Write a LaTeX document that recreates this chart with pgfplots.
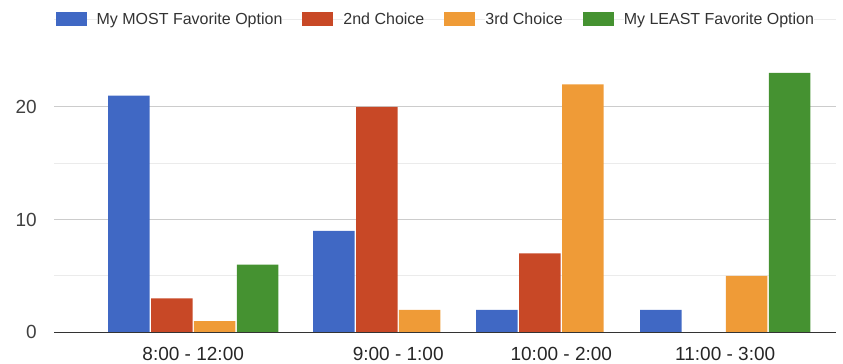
\documentclass[border=0pt]{standalone}
\usepackage{pgfplots}
\pgfplotsset{compat=1.18}
\usepackage{fontspec}
\setmainfont{Liberation Sans}
\definecolor{cblue}{HTML}{4068C4}
\definecolor{cred}{HTML}{C84826}
\definecolor{corange}{HTML}{EF9B37}
\definecolor{cgreen}{HTML}{459231}
\definecolor{txt}{HTML}{404040}
\begin{document}
\begin{tikzpicture}
\useasboundingbox (0,0) rectangle (843bp,364bp);
\begin{axis}[
  at={(54bp,31.7bp)}, anchor=south west,
  scale only axis, width=782bp, height=312.3bp,
  xmin=54, xmax=836, ymin=0, ymax=27.7,
  axis line style={draw=none},
  tick style={draw=none},
  xtick={193.2,398.2,561.3,725.2},
  xticklabels={8:00 - 12:00, 9:00 - 1:00, 10:00 - 2:00, 11:00 - 3:00},
  ytick={0,10,20},
  minor ytick={5,15},
  ymajorgrids, yminorgrids,
  major grid style={draw=black!20, line width=1bp},
  minor grid style={draw=black!8, line width=1bp},
  extra y ticks={27.7}, extra y tick labels={},
  extra y tick style={major grid style={draw=black!8, line width=1bp}},
  /pgf/number format/assume math mode=true,
  yticklabel style={font=\fontsize{19bp}{22bp}\selectfont, text=txt, anchor=east, inner sep=0pt, xshift=-17bp},
  xticklabel style={font=\fontsize{19bp}{22bp}\selectfont, text=black!85, anchor=north, inner sep=0pt, yshift=-15bp},
  legend columns=4,
  legend style={at={(0.487,1.002)}, anchor=center, draw=none, fill=none,
    inner sep=0pt, outer sep=0pt,
    font=\fontsize{16bp}{19bp}\selectfont, text=black!80,
    nodes={fill=white, inner sep=0pt, outer sep=0pt},
    /tikz/every odd column/.append style={column sep=10bp},
    /tikz/every even column/.append style={column sep=20bp}},
  legend image code/.code={\fill[#1] (0bp,-7bp) rectangle (31bp,7bp);},
]
\addplot[ybar, bar width=41.5, bar shift=-64.35, fill=cblue, draw=none]
  coordinates {(193.2,21) (398.2,9) (561.3,2) (725.2,2)};
\addplot[ybar, bar width=41.5, bar shift=-21.45, fill=cred, draw=none]
  coordinates {(193.2,3) (398.2,20) (561.3,7) (725.2,0)};
\addplot[ybar, bar width=41.5, bar shift=21.45, fill=corange, draw=none]
  coordinates {(193.2,1) (398.2,2) (561.3,22) (725.2,5)};
\addplot[ybar, bar width=41.5, bar shift=64.35, fill=cgreen, draw=none]
  coordinates {(193.2,6) (398.2,0) (561.3,0) (725.2,23)};
\legend{My MOST Favorite Option, 2nd Choice, 3rd Choice, My LEAST Favorite Option}
\draw[black!80, line width=1.5bp] (axis cs:54,0) -- (axis cs:836,0);
\end{axis}
\end{tikzpicture}
\end{document}
